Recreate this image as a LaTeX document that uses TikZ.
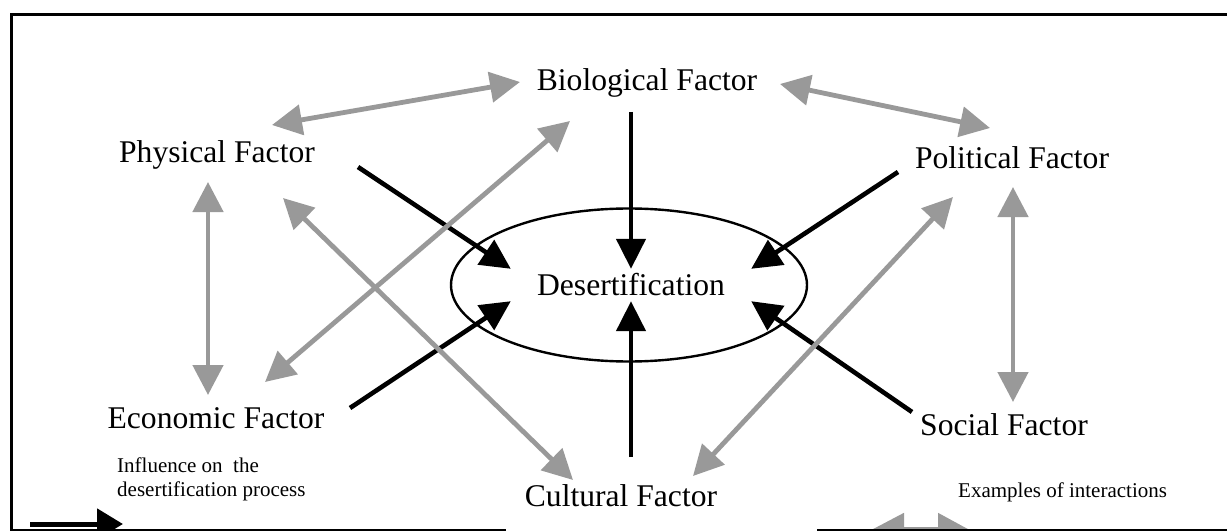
\documentclass[tikz,border=0pt]{standalone}
\usepackage{fontspec}
\setmainfont{Liberation Serif}
\usetikzlibrary{arrows.meta, shapes.geometric}
\definecolor{linkgray}{RGB}{153,153,153}

\begin{document}
\begin{tikzpicture}[x=1pt, y=-1pt,
    factor/.style={inner sep=0pt, anchor=base, font=\fontsize{31.6}{36}\selectfont},
    ring/.style={ellipse, draw, line width=2.4pt, minimum width=356pt, minimum height=153pt, inner sep=0pt},
    desert/.style={inner sep=0pt, minimum width=240pt, minimum height=32pt, font=\fontsize{31.6}{36}\selectfont},
    note/.style={inner sep=0pt, font=\fontsize{21}{23.5}\selectfont, align=left},
    infl/.style={-{Triangle[length=30pt, width=29pt]}, line width=4.6pt, black},
    inter/.style={{Triangle[length=30pt, width=30pt]}-{Triangle[length=30pt, width=30pt]}, line width=4.8pt, linkgray},
    frame/.style={line width=2.6pt, black, line join=miter},
]
\useasboundingbox (0,0) rectangle (1227,532);

% Factors
\node[factor] (bio) at (647,91) {Biological Factor};
\node[factor] (phys) at (217,163) {Physical Factor};
\node[factor] (pol) at (1012,168) {Political Factor};
\node[factor] (econ) at (216,428) {Economic Factor};
\node[factor] (soc) at (1004,435) {Social Factor};
\node[factor] (cult) at (621,506) {Cultural Factor};

% Desertification
\node[ring] (ring) at (629,285) {};
\node[desert] (desert) at (631,285) {Desertification};

% Influence on desertification (black)
\draw[infl] ([shift={(141,4)}]phys.base) -- (desert.north west);
\draw[infl] ([shift={(134,-20)}]econ.base) -- (desert.south west);
\draw[infl] ([shift={(-16,21)}]bio.base) -- (desert.north);
\draw[infl] ([shift={(10,-49)}]cult.base) -- (desert.south);
\draw[infl] ([shift={(-114,4)}]pol.base) -- (desert.north east);
\draw[infl] ([shift={(-92,-23)}]soc.base) -- (desert.south east);

% Interactions (grey, both ways)
\draw[inter] ([shift={(55,-38)}]phys.base) -- ([shift={(-127,-9)}]bio.base);
\draw[inter] ([shift={(133,-7)}]bio.base) -- ([shift={(-22,-40)}]pol.base);
\draw[inter] ([shift={(-9,19)}]phys.base) -- ([shift={(-8,-33)}]econ.base);
\draw[inter] ([shift={(1,19)}]pol.base) -- ([shift={(9,-33)}]soc.base);
\draw[inter] ([shift={(49,-46)}]econ.base) -- ([shift={(-77,30)}]bio.base);
\draw[inter] ([shift={(66,35)}]phys.base) -- ([shift={(-48,-26)}]cult.base);
\draw[inter] ([shift={(-59,29)}]pol.base) -- ([shift={(72,-30)}]cult.base);

% Legend
\node[note, anchor=north west] (inflnote) at (117,458) {Influence on~ the\\desertification process};
\node[note, anchor=base west] (internote) at (958,497) {Examples of interactions};
\coordinate (inflA) at (30,524);
\coordinate (inflB) at (123,524);
\coordinate (interA) at (873,529);
\coordinate (interB) at (968,529);
\begin{scope}
  \clip (0,0) rectangle (1227,529);
  \draw[infl, line width=5pt, -{Triangle[length=26pt, width=30pt]}] (inflA) -- (inflB);
  \draw[inter, line width=5pt, {Triangle[length=31pt, width=31pt]}-{Triangle[length=30pt, width=31pt]}] (interA) -- (interB);
\end{scope}

% Frame
\draw[frame] (1227,14.5) -- (11.3,14.5) -- (11.3,530) -- (506,530);
\draw[frame] (817,530) -- (1227,530);
\end{tikzpicture}
\end{document}
